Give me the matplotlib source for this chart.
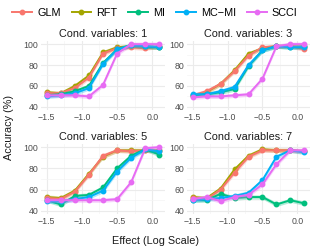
import numpy as np
import matplotlib
matplotlib.use("Agg")
import matplotlib.pyplot as plt
from matplotlib.lines import Line2D

plt.rcParams['font.family'] = ['Liberation Sans', 'DejaVu Sans']

# effect sizes (log scale)
effect = [-1.5, -1.3, -1.1, -0.9, -0.7, -0.5, -0.3, -0.1, 0.1]

methods = ['GLM', 'RFT', 'MI', 'MC\u2212MI', 'SCCI']
colors = ['#F8766D', '#A3A500', '#00BF7D', '#00B0F6', '#E76BF3']

panel_titles = ['Cond. variables: 1', 'Cond. variables: 3',
                'Cond. variables: 5', 'Cond. variables: 7']

# accuracy (%) per panel, one list per method
acc_cv1 = {
    'GLM':  [53, 53, 58, 68, 91, 96, 97, 96, 98],
    'RFT':  [54, 53, 60, 70, 92, 97, 98, 97, 97],
    'MI':   [51, 52, 55, 60, 82, 95, 99, 98, 97],
    'MC\u2212MI': [50, 51, 53, 58, 81, 95, 99, 98, 97],
    'SCCI': [51, 51, 51, 50, 61, 91, 100, 100, 100],
}
acc_cv3 = {
    'GLM':  [51, 55, 62, 74, 89, 97, 98, 98, 95],
    'RFT':  [50, 54, 62, 75, 91, 96, 98, 98, 97],
    'MI':   [51, 52, 54, 57, 79, 94, 98, 97, 98],
    'MC\u2212MI': [52, 52, 55, 59, 80, 94, 98, 97, 97],
    'SCCI': [49, 50, 50, 51, 52, 67, 98, 100, 100],
}
acc_cv5 = {
    'GLM':  [52, 51, 58, 74, 92, 97, 96, 97, 96],
    'RFT':  [53, 52, 59, 75, 91, 97, 97, 97, 97],
    'MI':   [50, 46, 54, 55, 62, 80, 92, 98, 93],
    'MC\u2212MI': [49, 49, 51, 53, 59, 77, 90, 98, 96],
    'SCCI': [50, 50, 50, 50, 50, 51, 67, 99, 100],
}
acc_cv7 = {
    'GLM':  [52, 51, 60, 76, 91, 97, 97, 97, 96],
    'RFT':  [53, 52, 61, 79, 92, 98, 97, 97, 96],
    'MI':   [50, 50, 56, 52, 53, 53, 46, 50, 47],
    'MC\u2212MI': [50, 51, 52, 54, 57, 69, 91, 97, 95],
    'SCCI': [51, 53, 49, 53, 55, 65, 84, 97, 97],
}
panels = [acc_cv1, acc_cv3, acc_cv5, acc_cv7]
ci_half = 2.0  # approx half-width of the shaded band

W, H = 310, 250
fig = plt.figure(figsize=(W / 100, H / 100), dpi=100)

# axes boxes in pixels: left, top, right, bottom
boxes = [(41, 41, 165, 110), (187, 41, 310, 110),
         (41, 144, 165, 214), (187, 144, 310, 214)]

# RFT goes underneath GLM, the rest in legend order
draw_order = [1, 0, 2, 3, 4]
x = np.array(effect)
for i, (l, t, r, b) in enumerate(boxes):
    ax = fig.add_axes([l / W, 1 - b / H, (r - l) / W, (b - t) / H])
    data = panels[i]
    for z, k in enumerate(draw_order):
        y = np.array(data[methods[k]])
        ax.fill_between(x, y - ci_half, y + ci_half, color=colors[k],
                        alpha=0.3, lw=0, zorder=2 + 2 * z)
        ax.plot(x, y, color=colors[k], lw=1.4, marker='o', ms=3.2,
                zorder=3 + 2 * z)
    ax.set_xlim(-1.58, 0.18)
    ax.set_ylim(37, 103)
    ax.set_xticks([-1.5, -1.0, -0.5, 0.0])
    ax.set_xticks([-1.25, -0.75, -0.25], minor=True)
    ax.set_yticks([40, 60, 80, 100])
    ax.set_yticks([50, 70, 90], minor=True)
    ax.grid(True, which='major', color='#EBEBEB', lw=0.8, zorder=0)
    ax.grid(True, which='minor', color='#F4F4F4', lw=0.5, zorder=0)
    ax.set_axisbelow(True)
    for s in ax.spines.values():
        s.set_visible(False)
    ax.tick_params(which='both', length=0, labelsize=6.3, colors='#4D4D4D',
                   pad=2)
    ax.set_xticklabels(['\u22121.5', '\u22121.0', '\u22120.5', '0.0'])
    ax.set_title(panel_titles[i], fontsize=7.8, color='#1A1A1A', pad=3)

fig.text(0.5, 1 - 241 / H, 'Effect (Log Scale)', ha='center', va='center',
         fontsize=7.8, color='#1A1A1A')
fig.text(9 / W, 1 - 127 / H, 'Accuracy (%)', rotation=90, ha='center',
         va='center', fontsize=7.8, color='#1A1A1A')

handles = [Line2D([0], [0], color=c, lw=1.4, marker='o', ms=3.2)
           for c in colors]
fig.legend(handles, methods, loc='center', bbox_to_anchor=(0.5, 1 - 13 / H),
           ncol=5, frameon=False, fontsize=7.8, handlelength=1.8,
           handletextpad=0.5, columnspacing=1.0)

fig.savefig('out.png', dpi=100)
